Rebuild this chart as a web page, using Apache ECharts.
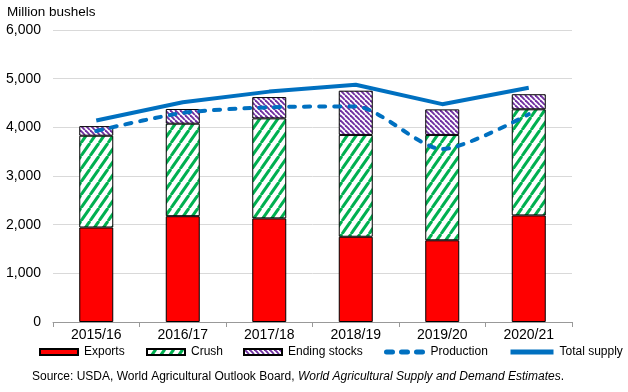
<!DOCTYPE html>
<html><head><meta charset="utf-8">
<script src="https://cdn.jsdelivr.net/npm/echarts@6/dist/echarts.min.js"></script>
<style>html,body{margin:0;padding:0;background:#fff}#c{width:628px;height:392px}</style>
</head><body><div id="c"></div>
<script>
var categories = ['2015/16','2016/17','2017/18','2018/19','2019/20','2020/21'];
var exportsData = [1942, 2174, 2129, 1752, 1679, 2190];
var crushData = [1886, 1901, 2055, 2092, 2165, 2180];
var endingStocks = [197, 302, 438, 909, 525, 310];
var production = [3926, 4296, 4412, 4428, 3552, 4270];
var totalSupply = [4140, 4515, 4734, 4876, 4476, 4815];
var yTicks = [0, 1000, 2000, 3000, 4000, 5000, 6000];

function stripe(color, w, h, lw, dir){
  var c = document.createElement('canvas');
  c.width = w; c.height = h;
  var g = c.getContext('2d');
  g.fillStyle = '#fff'; g.fillRect(0,0,w,h);
  g.strokeStyle = color; g.lineWidth = lw; g.lineCap='butt';
  for (var k=-1;k<=1;k++){
    g.beginPath();
    if (dir === '/') { g.moveTo(k*w, h); g.lineTo(k*w+w, 0); }
    else { g.moveTo(k*w, 0); g.lineTo(k*w+w, h); }
    g.stroke();
  }
  return c;
}
var greenPat = {image: stripe('#00B050', 9, 13, 3, '/'), repeat:'repeat'};
var purplePat = {image: stripe('#7030A0', 5, 5, 1.9, '\\'), repeat:'repeat'};

var font = 'Liberation Sans, Arial, sans-serif';
var chart = echarts.init(document.getElementById('c'), null, {renderer:'canvas'});
var legendBase = {top: 346, padding:0, itemWidth: 38, itemHeight: 6, itemGap: 0,
  textStyle:{fontFamily:font, fontSize:12, color:'#000', padding:[0,0,0,1]}};
function lg(left, extra){ return Object.assign({}, legendBase, {left:left}, extra||{}); }
var option = {
  animation:false,
  grid:{left:53, right:56, top:30, bottom:70},
  legend:[
    lg(39, {data:[{name:'Exports', icon:'rect'}]}),
    lg(146, {data:[{name:'Crush', icon:'rect'}]}),
    lg(243, {data:[{name:'Ending stocks', icon:'rect'}]}),
    lg(384, {data:['Production'], itemHeight:6, itemStyle:{opacity:0}, lineStyle:{width:5}}),
    lg(508, {data:['Total supply'], itemWidth:43, itemHeight:6, itemStyle:{opacity:0}, lineStyle:{width:5}})
  ],
  graphic:[
    {type:'text', left:7, top:5, style:{text:'Million bushels', font:'13.5px '+font, fill:'#000'}},
    {type:'text', left:32, top:371, style:{
      text:'Source: USDA, World Agricultural Outlook Board, {i|World Agricultural Supply and Demand Estimates}.',
      font:'12px '+font, fill:'#000',
      rich:{i:{fontStyle:'italic', fontSize:12, fontFamily:font}}}}
  ],
  xAxis:{type:'category', data:categories,
    axisLine:{lineStyle:{color:'#999', width:1}},
    axisTick:{show:true, length:5, lineStyle:{color:'#999'}},
    axisLabel:{fontFamily:font, fontSize:14, color:'#000', margin:6}},
  yAxis:{type:'value', min:0, max:6000, interval:1000,
    axisLine:{show:false}, axisTick:{show:false},
    splitLine:{lineStyle:{color:'#d9d9d9', width:1}},
    axisLabel:{fontFamily:font, fontSize:14, color:'#000', margin:12,
      formatter:function(v){ return yTicks.indexOf(v)>=0 ? v.toLocaleString('en-US') : ''; }}},
  series:[
    {name:'Exports', type:'bar', stack:'a', data:exportsData, barWidth:34,
     itemStyle:{color:'#FF0000', borderColor:'#000', borderWidth:1}},
    {name:'Crush', type:'bar', stack:'a', data:crushData,
     itemStyle:{color:greenPat, borderColor:'#000', borderWidth:1}},
    {name:'Ending stocks', type:'bar', stack:'a', data:endingStocks,
     itemStyle:{color:purplePat, borderColor:'#000', borderWidth:1}},
    {name:'Production', type:'line', data:production, symbol:'none', smooth:0.25,
     itemStyle:{color:'#0070C0'},
     lineStyle:{color:'#0070C0', width:4, type:[6,9], cap:'round'}},
    {name:'Total supply', type:'line', data:totalSupply, symbol:'none',
     itemStyle:{color:'#0070C0'},
     lineStyle:{color:'#0070C0', width:4}}
  ]
};
chart.setOption(option);
</script></body></html>
